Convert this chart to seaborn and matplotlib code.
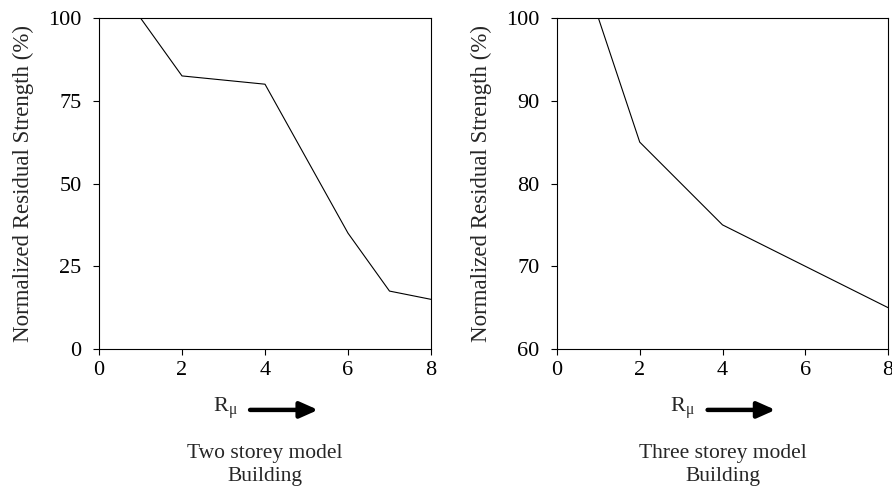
import matplotlib
matplotlib.use("Agg")
import matplotlib.pyplot as plt
import seaborn as sns
import pandas as pd

# Residual strength versus ductility ratio
two_storey_r = [1, 2, 4, 6, 7, 8]
two_storey_strength = [100, 82.5, 80, 35, 17.5, 15]
three_storey_r = [1, 2, 4, 8]
three_storey_strength = [100, 85, 75, 65]

x_ticks = [0, 2, 4, 6, 8]
left_y_ticks = [0, 25, 50, 75, 100]
right_y_ticks = [60, 70, 80, 90, 100]

sns.set_theme(style="white")
plt.rcParams["font.family"] = ["Liberation Serif", "DejaVu Serif"]
plt.rcParams["mathtext.fontset"] = "custom"
plt.rcParams["mathtext.rm"] = "Liberation Serif"
plt.rcParams["mathtext.it"] = "Liberation Serif:italic"

W, H = 892, 490
fig = plt.figure(figsize=(W / 100, H / 100), dpi=100)


def px_axes(x0, y0, x1, y1):
    return fig.add_axes([x0 / W, 1 - y1 / H, (x1 - x0) / W, (y1 - y0) / H])


panels = [
    (px_axes(99, 18, 431, 349), two_storey_r, two_storey_strength,
     left_y_ticks, (0, 100), "Two storey model\nBuilding"),
    (px_axes(557, 18, 888, 349), three_storey_r, three_storey_strength,
     right_y_ticks, (60, 100), "Three storey model\nBuilding"),
]

for ax, xs, ys, yt, ylim, caption in panels:
    df = pd.DataFrame({"R": xs, "S": ys})
    sns.lineplot(data=df, x="R", y="S", ax=ax, color="black", linewidth=0.8)
    ax.set_xlim(0, 8)
    ax.set_ylim(*ylim)
    ax.set_xticks(x_ticks)
    ax.set_yticks(yt)
    ax.set_xlabel("")
    ax.set_ylabel("Normalized Residual Strength (%)", fontsize=16.5)
    ax.yaxis.set_label_coords(-0.196, 0.5)
    ax.tick_params(axis="both", direction="out", length=4.5, width=0.8,
                   labelsize=16, colors="black", bottom=True, left=True)
    ax.tick_params(axis="y", pad=8)
    ax.tick_params(axis="x", pad=4)
    for s in ax.spines.values():
        s.set_color("black")
        s.set_linewidth(0.8)

    # ductility-ratio arrow and caption below the axes
    ax.text(0.38, -0.18, r"R$_{\mathrm{μ}}$", transform=ax.transAxes,
            fontsize=16, ha="center", va="center")
    ax.annotate("", xy=(0.66, -0.184), xytext=(0.455, -0.184),
                xycoords="axes fraction",
                arrowprops=dict(arrowstyle="-|>,head_length=0.9,head_width=0.4",
                                color="black", lw=3.2,
                                shrinkA=0, shrinkB=0))
    ax.text(0.5, -0.35, caption, transform=ax.transAxes, fontsize=15.5,
            ha="center", va="center", linespacing=1.3)

fig.savefig("out.png", dpi=100)
